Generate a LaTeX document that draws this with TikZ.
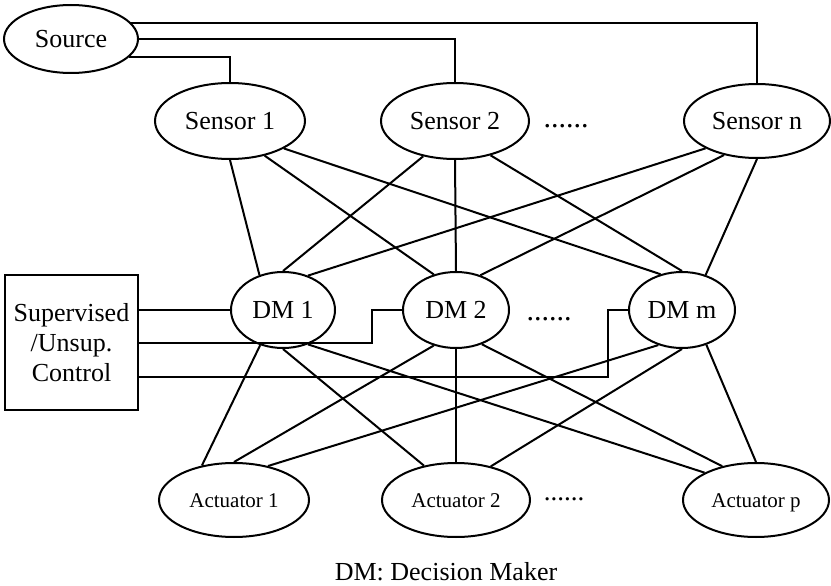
\documentclass[tikz,border=0pt]{standalone}
\usepackage{fontspec}
\setmainfont{Liberation Serif}
\usetikzlibrary{shapes.geometric}

\tikzset{
  oval/.style={ellipse, draw, line width=2pt, inner sep=0pt,
    text height=17pt, text depth=0pt,
    font=\fontsize{26}{30}\selectfont},
  smalloval/.style={oval, text height=14pt, font=\fontsize{21}{25}\selectfont},
  ctrlbox/.style={rectangle, draw, line width=2pt, inner sep=0pt,
    align=center, font=\fontsize{26}{30}\selectfont},
  wire/.style={line width=2pt},
  gap/.style={inner sep=0pt, anchor=base, font=\fontsize{30}{34}\selectfont},
  caption/.style={inner sep=0pt, font=\fontsize{26}{30}\selectfont}
}

\begin{document}
\begin{tikzpicture}[x=1pt, y=-1pt]
  \useasboundingbox (0,0) rectangle (831,586);

  % source
  \node[oval, minimum width=134pt, minimum height=68pt] (src) at (71,39) {Source};

  % sensors
  \node[oval, minimum width=150pt, minimum height=76pt] (s1) at (230,121) {Sensor 1};
  \node[oval, minimum width=148pt, minimum height=76pt] (s2) at (455,121) {Sensor 2};
  \node[oval, minimum width=146pt, minimum height=74pt] (sn) at (757,121) {Sensor n};
  \node[gap] (sdots) at (566,128) {......};

  % decision makers
  \node[oval, minimum width=104pt, minimum height=76pt] (dm1) at (283,310) {DM 1};
  \node[oval, minimum width=106pt, minimum height=76pt] (dm2) at (456,310) {DM 2};
  \node[oval, minimum width=106pt, minimum height=76pt] (dmm) at (682,310) {DM m};
  \node[gap] (ddots) at (549,320) {......};

  % actuators
  \node[smalloval, minimum width=150pt, minimum height=74pt] (a1) at (234,500) {Actuator 1};
  \node[smalloval, minimum width=148pt, minimum height=74pt] (a2) at (456,500) {Actuator 2};
  \node[smalloval, minimum width=146pt, minimum height=74pt] (ap) at (756,500) {Actuator p};
  \node[gap, font=\fontsize{27}{30}\selectfont] (adots) at (564,500) {......};

  % control box
  \node[ctrlbox, minimum width=133pt, minimum height=135pt] (box) at (71.5,342.5)
    {Supervised\\/Unsup.\\Control};

  \node[caption] (cap) at (446,572) {DM: Decision Maker};

  % source to sensors
  \draw[wire] (src.15) -| (sn.north);
  \draw[wire] (src.east) -| (s2.north);
  \draw[wire] (src.-17.5) -| (s1.north);

  % sensors to decision makers
  \draw[wire] (s1.-90) -- (dm1.124.4);
  \draw[wire] (s1.-45.8) -- (dm2.122.6);
  \draw[wire] (s1.-27.8) -- (dmm.121.4);
  \draw[wire] (s2.-132.4) -- (dm1.90);
  \draw[wire] (s2.-90) -- (dm2.90);
  \draw[wire] (s2.-44.2) -- (dmm.90);
  \draw[wire] (sn.-152.6) -- (dm1.54.8);
  \draw[wire] (sn.-134.2) -- (dm2.55.2);
  \draw[wire] (sn.-90) -- (dmm.56.3);

  % decision makers to actuators
  \draw[wire] (dm1.-123.3) -- (a1.133.4);
  \draw[wire] (dm1.-90) -- (a2.133.3);
  \draw[wire] (dm1.-54.8) -- (ap.152.6);
  \draw[wire] (dm2.-122.6) -- (a1.90);
  \draw[wire] (dm2.-90) -- (a2.90);
  \draw[wire] (dm2.-53.4) -- (ap.135);
  \draw[wire] (dmm.-124) -- (a1.45.8);
  \draw[wire] (dmm.-90) -- (a2.44.2);
  \draw[wire] (dmm.-55.6) -- (ap.90);

  % control lines
  \coordinate (k2) at (372,343);
  \coordinate (km) at (608,377);
  \draw[wire] (box.east |- dm1.west) -- (dm1.west);
  \draw[wire] (box.east |- k2) -- (k2) |- (dm2.west);
  \draw[wire] (box.east |- km) -- (km) |- (dmm.west);
\end{tikzpicture}
\end{document}
